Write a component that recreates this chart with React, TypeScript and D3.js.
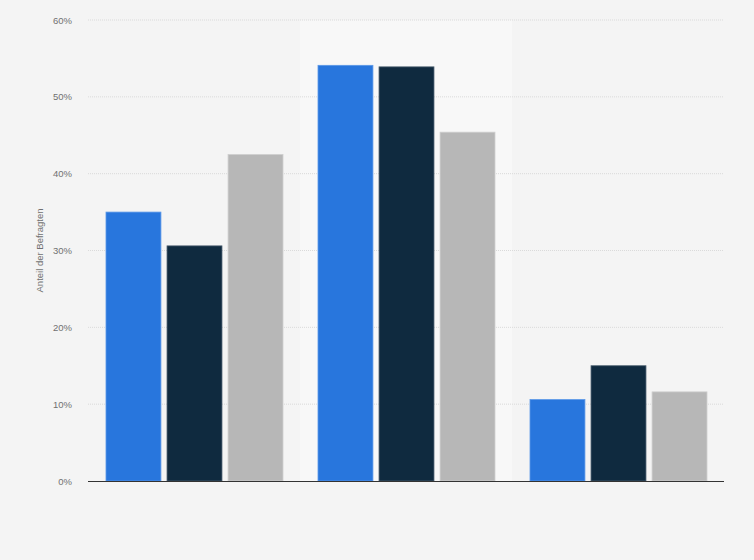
import { useEffect, useRef } from "react"
import * as d3 from "d3"

const categories = ["Gruppe 1", "Gruppe 2", "Gruppe 3"]
const seriesNames = ["Serie A", "Serie B", "Serie C"]
const serieA = [35.0, 54.1, 10.6]
const serieB = [30.6, 53.9, 15.0]
const serieC = [42.5, 45.4, 11.6]
const yTicks = [0, 10, 20, 30, 40, 50, 60]
const colors = ["#2876dd", "#0f2a3f", "#b7b7b7"]
const strokes = ["#5b98e8", "#4a5d6e", "#cfcfcf"]

export default function App() {
  const svgRef = useRef<SVGSVGElement>(null)

  useEffect(() => {
    if (!svgRef.current) return
    document.body.style.margin = "0"

    const svg = d3.select(svgRef.current)
    svg.selectAll("*").remove()

    const width = 754
    const height = 560
    const margin = { top: 20, right: 30, bottom: 79, left: 88 }
    const innerWidth = width - margin.left - margin.right
    const innerHeight = height - margin.top - margin.bottom

    svg.append("rect").attr("width", width).attr("height", height).attr("fill", "#f4f4f4")

    const g = svg.append("g").attr("transform", `translate(${margin.left},${margin.top})`)

    const x0 = d3.scaleBand().domain(categories).range([0, innerWidth])
    const y = d3.scaleLinear().domain([0, 60]).range([innerHeight, 0])

    // highlighted middle group
    g.append("rect")
      .attr("x", x0(categories[1])!)
      .attr("y", 0)
      .attr("width", x0.bandwidth())
      .attr("height", innerHeight)
      .attr("fill", "#f8f8f8")

    // gridlines
    g.selectAll("line.grid")
      .data(yTicks.filter((t) => t > 0))
      .join("line")
      .attr("class", "grid")
      .attr("x1", 0)
      .attr("x2", innerWidth)
      .attr("y1", (d) => y(d))
      .attr("y2", (d) => y(d))
      .attr("stroke", "#dadada")
      .attr("stroke-width", 1)
      .attr("stroke-dasharray", "1,1")

    // tick labels
    g.selectAll("text.tick")
      .data(yTicks)
      .join("text")
      .attr("class", "tick")
      .attr("x", -16)
      .attr("y", (d) => y(d) + 3.5)
      .attr("text-anchor", "end")
      .attr("fill", "#707070")
      .style("font-family", "Arial, 'Liberation Sans', sans-serif")
      .style("font-size", "9.5px")
      .text((d) => `${d}%`)

    // y axis title
    g.append("text")
      .attr("transform", `translate(${43 - margin.left},${innerHeight / 2}) rotate(-90)`)
      .attr("text-anchor", "middle")
      .attr("fill", "#707070")
      .style("font-family", "Arial, 'Liberation Sans', sans-serif")
      .style("font-size", "9.5px")
      .text("Anteil der Befragten")

    const x1 = d3
      .scaleBand()
      .domain(seriesNames)
      .range([18, x0.bandwidth() - 17])
      .paddingInner(0.1)

    const series = [serieA, serieB, serieC]
    series.forEach((values, si) => {
      g.append("g")
        .selectAll("rect")
        .data(values)
        .join("rect")
        .attr("x", (_, i) => x0(categories[i])! + x1(seriesNames[si])!)
        .attr("y", (d) => y(d))
        .attr("width", x1.bandwidth())
        .attr("height", (d) => innerHeight - y(d))
        .attr("fill", colors[si])
        .attr("stroke", strokes[si])
        .attr("stroke-width", 0.8)
    })

    // baseline
    g.append("line")
      .attr("x1", 0)
      .attr("x2", innerWidth)
      .attr("y1", innerHeight + 0.5)
      .attr("y2", innerHeight + 0.5)
      .attr("stroke", "#333")
      .attr("stroke-width", 1.2)
  }, [])

  return <svg ref={svgRef} width={754} height={560} style={{ display: "block" }} />
}
